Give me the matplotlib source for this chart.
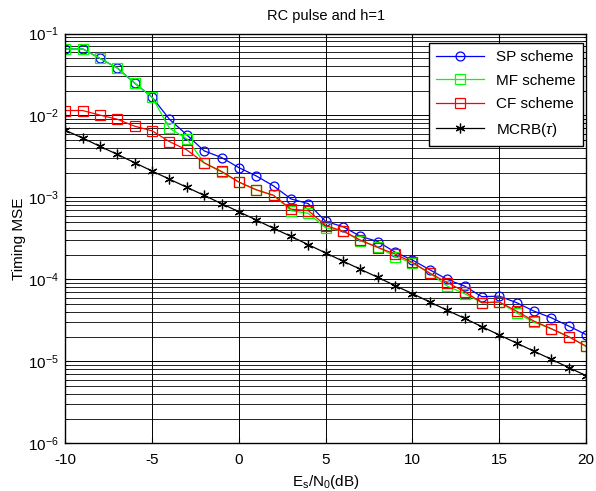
import matplotlib.pyplot as plt
from matplotlib.ticker import LogLocator, MultipleLocator, NullFormatter

plt.rcParams['font.family'] = ['Liberation Sans', 'DejaVu Sans']
plt.rcParams['mathtext.fontset'] = 'custom'
plt.rcParams['mathtext.rm'] = 'Liberation Sans'
plt.rcParams['mathtext.it'] = 'Liberation Sans:italic'
plt.rcParams['axes.unicode_minus'] = False

snr_db = list(range(-10, 21))

sp = [0.065, 0.065, 0.0497, 0.0379, 0.0248, 0.0167, 0.0090, 0.0058, 0.0037, 0.00307,
      0.00231, 0.00183, 0.00138, 0.00096, 0.00084, 0.00051, 0.00044, 0.000335, 0.00029,
      0.000215, 0.000172, 0.000131, 0.000100, 8.3e-5, 6.15e-5, 6.25e-5, 5.2e-5, 4.1e-5,
      3.4e-5, 2.7e-5, 2.12e-5]
mf = [0.065, 0.065, 0.0497, 0.0379, 0.0248, 0.0167, 0.0070, 0.0052, 0.00265, 0.00204,
      0.00154, 0.00124, 0.00106, 0.00069, 0.00064, 0.000426, 0.000389, 0.000295, 0.00025,
      0.00019, 0.000158, 0.000119, 8.3e-5, 6.7e-5, 5.2e-5, 5.3e-5, 3.9e-5, 3.0e-5,
      2.5e-5, 2.0e-5, 1.53e-5]
cf = [0.0115, 0.0115, 0.0101, 0.0090, 0.0074, 0.0065, 0.0048, 0.0038, 0.00264, 0.00208,
      0.00154, 0.00124, 0.00106, 0.00072, 0.00069, 0.000453, 0.000389, 0.000302, 0.000245,
      0.000204, 0.000161, 0.000119, 9.15e-5, 7.1e-5, 5.2e-5, 5.3e-5, 4.1e-5, 3.1e-5,
      2.5e-5, 2.0e-5, 1.53e-5]
mcrb = [6.6e-3, 5.3e-3, 4.2e-3, 3.35e-3, 2.65e-3, 2.1e-3, 1.67e-3, 1.33e-3, 1.06e-3, 8.4e-4,
        6.7e-4, 5.3e-4, 4.2e-4, 3.35e-4, 2.65e-4, 2.1e-4, 1.67e-4, 1.33e-4, 1.06e-4, 8.4e-5,
        6.7e-5, 5.3e-5, 4.2e-5, 3.35e-5, 2.65e-5, 2.1e-5, 1.67e-5, 1.33e-5, 1.06e-5, 8.4e-6,
        6.7e-6]

fig = plt.figure(figsize=(5.96, 4.91), dpi=100)
ax = fig.add_axes([0.1096, 0.0971, 0.8737, 0.8346])

ax.semilogy(snr_db, sp, color='#0000ff', lw=0.9, marker='o', ms=6.4, mfc='none', mew=0.9,
            label='SP scheme')
ax.semilogy(snr_db, mf, color='#00ff00', lw=0.9, marker='s', ms=7.6, mfc='none', mew=0.9,
            label='MF scheme')
ax.semilogy(snr_db, cf, color='#ff0000', lw=0.9, marker='s', ms=7.6, mfc='none', mew=0.9,
            label='CF scheme')
ax.semilogy(snr_db, mcrb, color='black', lw=0.9, marker=(6, 2, 0), ms=7, mew=0.9,
            label=r'MCRB($\tau$)')

ax.set_xlim(-10, 20)
ax.set_ylim(1e-6, 1e-1)
ax.xaxis.set_major_locator(MultipleLocator(5))
ax.yaxis.set_major_locator(LogLocator(base=10, numticks=10))
ax.yaxis.set_minor_locator(LogLocator(base=10, subs=range(2, 10), numticks=10))
ax.yaxis.set_minor_formatter(NullFormatter())

ax.grid(which='major', color='black', lw=0.7)
ax.grid(which='minor', axis='y', color='black', lw=0.6)
ax.tick_params(which='both', direction='in', labelsize=11, top=True, right=True)
ax.tick_params(axis='x', pad=7)
ax.tick_params(axis='y', pad=5)
for s in ax.spines.values():
    s.set_linewidth(1.0)

ax.set_title('RC pulse and h=1', fontsize=10.5, pad=10)
ax.set_xlabel(r'E$_\mathrm{s}$/N$_\mathrm{0}$(dB)', fontsize=11, labelpad=4)
ax.set_ylabel('Timing MSE', fontsize=11, labelpad=1)

leg = ax.legend(loc='upper right', fontsize=11, fancybox=False, framealpha=1,
                edgecolor='black', borderaxespad=0, handlelength=3.1,
                labelspacing=0.62, borderpad=0.5,
                bbox_to_anchor=(583 / 596, 1 - 42.7 / 491), bbox_transform=fig.transFigure)
leg.get_frame().set_linewidth(1.0)

plt.savefig('out.png', dpi=100)
